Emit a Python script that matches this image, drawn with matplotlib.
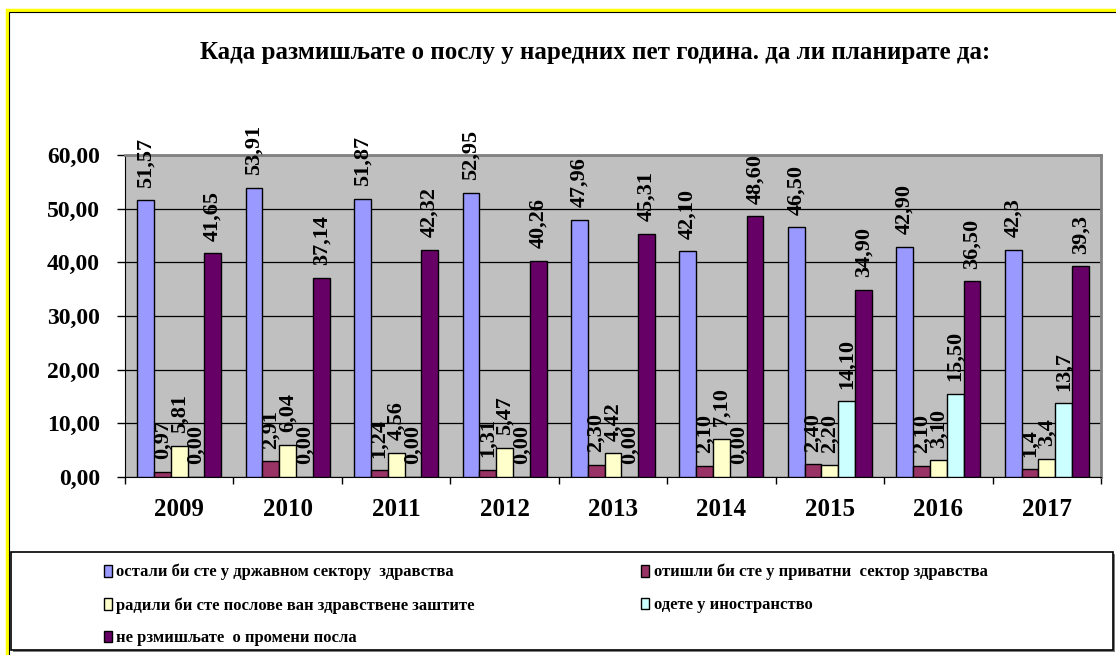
import matplotlib.pyplot as plt
import matplotlib.patches as mpatches
import numpy as np

plt.rcParams['font.family'] = ['Liberation Serif', 'DejaVu Serif']
plt.rcParams['font.weight'] = 'bold'

years = ['2009', '2010', '2011', '2012', '2013', '2014', '2015', '2016', '2017']

# answers per year, %
state_sector = [51.57, 53.91, 51.87, 52.95, 47.96, 42.10, 46.50, 42.90, 42.3]
private_sector = [0.97, 2.91, 1.24, 1.31, 2.30, 2.10, 2.40, 2.10, 1.4]
outside_health = [5.81, 6.04, 4.56, 5.47, 4.42, 7.10, 2.20, 3.10, 3.4]
abroad = [0.00, 0.00, 0.00, 0.00, 0.00, 0.00, 14.10, 15.50, 13.7]
no_change = [41.65, 37.14, 42.32, 40.26, 45.31, 48.60, 34.90, 36.50, 39.3]
decimals = [2, 2, 2, 2, 2, 2, 2, 2, 1]

names = ['остали би сте у државном сектору  здравства',
         'отишли би сте у приватни  сектор здравства',
         'радили би сте послове ван здравствене заштите',
         'одете у иностранство',
         'не рзмишљате  о промени посла']
colors = ['#9999FF', '#993366', '#FFFFCC', '#CCFFFF', '#660066']
title = 'Када размишљате о послу у наредних пет година. да ли планирате да:'

W, H = 1116, 655
fig = plt.figure(figsize=(W / 100, H / 100), dpi=100)
ax = fig.add_axes([125 / W, 1 - 477 / H, (1101 - 125) / W, (477 - 155) / H])
ax.set_facecolor('#C0C0C0')

x = np.arange(len(years))
w = 0.155
bars = []
for i, vals in enumerate([state_sector, private_sector, outside_health, abroad, no_change]):
    b = ax.bar(x + (i - 2) * w, vals, w, color=colors[i], edgecolor='black',
               linewidth=1, label=names[i], zorder=3)
    labels = [f'{v:.{d}f}'.replace('.', ',') for v, d in zip(vals, decimals)]
    ax.bar_label(b, labels=labels, rotation=90, padding=9, fontsize=16,
                 fontweight='bold', zorder=4)
    bars.append(b)

ax.set_xlim(-0.5, len(years) - 0.5)
ax.set_ylim(0, 60)
ax.set_yticks(np.arange(0, 61, 10))
ax.set_yticklabels([f'{v:.2f}'.replace('.', ',') for v in np.arange(0, 61, 10)], fontsize=17)
ax.set_xticks(x)
ax.set_xticklabels(years, fontsize=18)
ax.set_xticks(np.arange(-0.5, len(years), 1), minor=True)
ax.tick_params(axis='x', which='major', length=0, pad=15)
ax.tick_params(axis='x', which='minor', length=5, width=1, direction='out')
ax.tick_params(axis='y', length=6, width=1, direction='out', pad=12)
ax.yaxis.grid(True, color='black', linewidth=0.9, zorder=0)
ax.set_axisbelow(True)
for s in ['top', 'right']:
    ax.spines[s].set_color('#808080')
    ax.spines[s].set_linewidth(2)

fig.text(595 / W, 1 - 53 / H, title, ha='center', va='center', fontsize=18, fontweight='bold')

# outer frame
fig.patches.append(mpatches.Rectangle((7 / W, -0.1), 1.2, 1.1 - 10 / H, transform=fig.transFigure,
                                      fill=False, edgecolor='yellow', linewidth=2.5))
fig.patches.append(mpatches.Rectangle((9 / W, -0.1), 1.2, 1.1 - 12 / H, transform=fig.transFigure,
                                      fill=False, edgecolor='black', linewidth=0.8))

# legend box
fig.patches.append(mpatches.Rectangle((13 / W, 1 - 652 / H), (1113 - 11) / W, (650 - 552) / H,
                                      transform=fig.transFigure, facecolor='#808080',
                                      edgecolor='none'))
fig.patches.append(mpatches.Rectangle((11 / W, 1 - 650 / H), (1113 - 11) / W, (650 - 552) / H,
                                      transform=fig.transFigure, facecolor='white',
                                      edgecolor='black', linewidth=1.2))

leg_kw = dict(loc='upper left', frameon=False, fontsize=12, handlelength=0.5,
              handleheight=0.7, handletextpad=0.25, labelspacing=1.0,
              borderpad=0, borderaxespad=0)
fig.legend([bars[0], bars[2], bars[4]], [names[0], names[2], names[4]],
           bbox_to_anchor=(104 / W, 1 - 564 / H), **leg_kw)
fig.legend([bars[1], bars[3]], [names[1], names[3]],
           bbox_to_anchor=(641 / W, 1 - 564 / H), **leg_kw)

fig.savefig('out.png', dpi=100)
